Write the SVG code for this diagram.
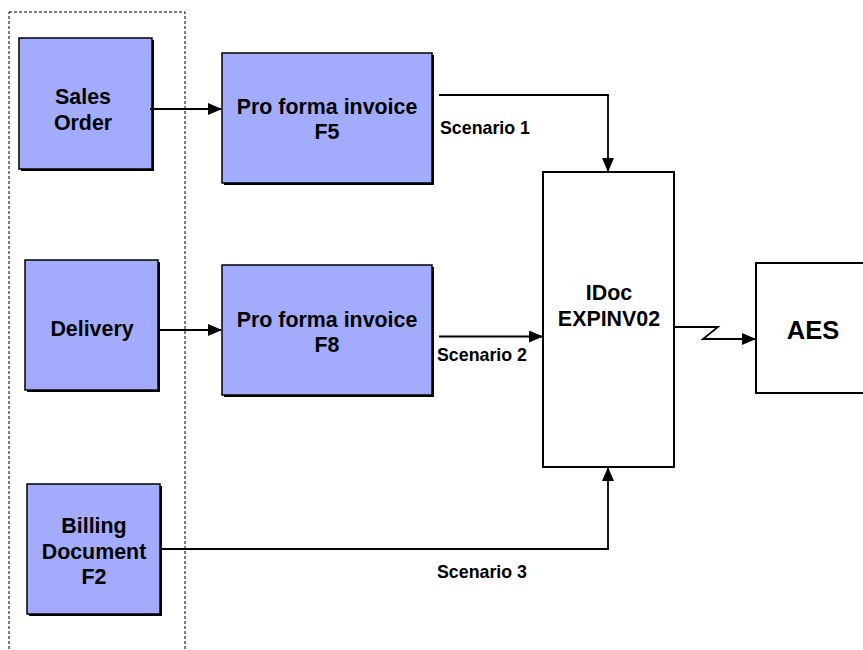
<svg xmlns="http://www.w3.org/2000/svg" width="863" height="650" viewBox="0 0 863 650">
<style>
.box{fill:#A3ACFC;stroke:#000;stroke-width:1.5}
.wbox{fill:#fff;stroke:#000;stroke-width:2}
.sh{fill:#000}
.t{font-family:"Liberation Sans",Arial,sans-serif;font-weight:bold;font-size:21.4px;text-anchor:middle;fill:#000}
.lbl{font-family:"Liberation Sans",Arial,sans-serif;font-weight:bold;font-size:17.8px;fill:#000}
.ln{fill:none;stroke:#000;stroke-width:1.8}
</style>
<defs>
<marker id="ah" markerWidth="14" markerHeight="12" refX="13" refY="6" orient="auto" markerUnits="userSpaceOnUse">
<path d="M0,0 L14,6 L0,12 Z" fill="#000"/>
</marker>
</defs>
<rect x="9" y="12" width="176" height="660" fill="none" stroke="#000" stroke-width="1" stroke-dasharray="3,2"/>
<g id="sales-order">
<rect class="sh" x="21" y="40" width="133" height="131"/>
<rect class="box" x="19" y="38" width="133" height="131"/>
<text class="t" x="83" y="104">Sales</text>
<text class="t" x="83" y="130">Order</text>
</g>
<g id="delivery">
<rect class="sh" x="27" y="262" width="133" height="130"/>
<rect class="box" x="25" y="260" width="133" height="130"/>
<text class="t" x="92" y="336">Delivery</text>
</g>
<g id="billing">
<rect class="sh" x="29" y="486" width="133" height="130"/>
<rect class="box" x="27" y="484" width="133" height="130"/>
<text class="t" x="94" y="533">Billing</text>
<text class="t" x="94" y="559">Document</text>
<text class="t" x="94" y="584">F2</text>
</g>
<g id="f5">
<rect class="sh" x="224" y="55" width="210" height="130"/>
<rect class="box" x="222" y="53" width="210" height="130"/>
<text class="t" x="327" y="114">Pro forma invoice</text>
<text class="t" x="327" y="139">F5</text>
</g>
<g id="f8">
<rect class="sh" x="224" y="267" width="210" height="130"/>
<rect class="box" x="222" y="265" width="210" height="130"/>
<text class="t" x="327" y="327">Pro forma invoice</text>
<text class="t" x="327" y="352">F8</text>
</g>
<g id="idoc">
<rect class="wbox" x="543" y="172" width="131" height="295"/>
<text class="t" x="609" y="300">IDoc</text>
<text class="t" x="609" y="326">EXPINV02</text>
</g>
<g id="aes">
<rect class="wbox" x="756" y="263" width="120" height="130"/>
<text class="t" x="813" y="339" style="font-size:25.5px">AES</text>
</g>
<g id="connectors">
<line class="ln" x1="150" y1="109" x2="221" y2="109" marker-end="url(#ah)"/>
<line class="ln" x1="158" y1="330" x2="221" y2="330" marker-end="url(#ah)"/>
<polyline class="ln" points="439,95 608,95 608,171" marker-end="url(#ah)"/>
<line class="ln" x1="439" y1="336.5" x2="542" y2="336.5" marker-end="url(#ah)"/>
<polyline class="ln" points="160,549 608,549 608,468" marker-end="url(#ah)"/>
<polyline class="ln" points="674,327 718,327 703,339 755,339" marker-end="url(#ah)"/>
<text class="lbl" x="440" y="134">Scenario 1</text>
<text class="lbl" x="437" y="361">Scenario 2</text>
<text class="lbl" x="437" y="578">Scenario 3</text>
</g>
</svg>
